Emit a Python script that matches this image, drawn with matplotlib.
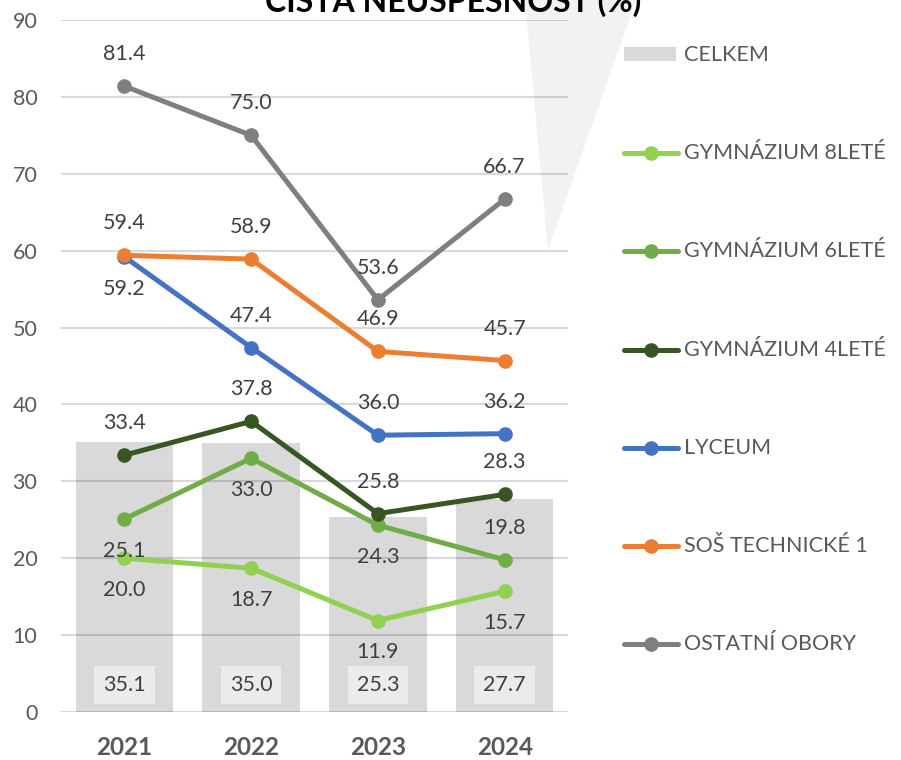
import matplotlib
matplotlib.use("Agg")
import matplotlib.pyplot as plt
from matplotlib.patches import Polygon, Rectangle
from matplotlib.lines import Line2D
import numpy as np

plt.rcParams['font.family'] = ['Lato', 'DejaVu Sans']

years = ['2021', '2022', '2023', '2024']
celkem = [35.1, 35.0, 25.3, 27.7]
series_names = ['GYMNÁZIUM 8LETÉ', 'GYMNÁZIUM 6LETÉ', 'GYMNÁZIUM 4LETÉ',
                'LYCEUM', 'SOŠ TECHNICKÉ 1', 'OSTATNÍ OBORY']
gym8 = [20.0, 18.7, 11.9, 15.7]
gym6 = [25.1, 33.0, 24.3, 19.8]
gym4 = [33.4, 37.8, 25.8, 28.3]
lyceum = [59.2, 47.4, 36.0, 36.2]
sos = [59.4, 58.9, 46.9, 45.7]
ostatni = [81.4, 75.0, 53.6, 66.7]
series_values = [gym8, gym6, gym4, lyceum, sos, ostatni]
colors = ['#92d050', '#70ad47', '#375623', '#4472c4', '#ed7d31', '#7f7f7f']
# label placement: +1 above, -1 below
label_side = [[-1, -1, -1, -1],
              [-1, -1, -1, 1],
              [1, 1, 1, 1],
              [-1, 1, 1, 1],
              [1, 1, 1, 1],
              [1, 1, 1, 1]]

W, H = 901, 760
fig = plt.figure(figsize=(W / 100, H / 100), dpi=100)

def fx(px):
    return px / W

def fy(py):
    return 1 - py / H

# callout-like light triangle behind everything
tri = Polygon([(fx(525), fy(0)), (fx(636), fy(0)), (fx(548), fy(250))],
              closed=True, transform=fig.transFigure, facecolor='#f2f2f2',
              edgecolor='none', zorder=-5)
fig.patches.append(tri)

ax = fig.add_axes([fx(61), fy(712), fx(568) - fx(61), fy(20) - fy(712)])
ax.patch.set_alpha(0)
x = np.arange(len(years))

bars = ax.bar(x, celkem, width=0.77, color='#d9d9d9', zorder=1)
for xi, v in zip(x, celkem):
    ax.text(xi, 3.5, f'{v:.1f}', ha='center', va='center', fontsize=15.5,
            color='#404040', zorder=4,
            bbox=dict(boxstyle='square,pad=0.42', facecolor='#ebebeb', edgecolor='none'))

for vals, col, sides in zip(series_values, colors, label_side):
    ax.plot(x, vals, color=col, lw=3.6, marker='o', markersize=9.5,
            solid_capstyle='round', zorder=3)
    for xi, v, s in zip(x, vals, sides):
        ax.annotate(f'{v:.1f}', (xi, v), xytext=(0, 23 * s), textcoords='offset points',
                    ha='center', va='center', fontsize=15.5, color='#404040', zorder=5)

ax.set_xlim(-0.5, 3.5)
ax.set_ylim(0, 90)
ax.set_yticks(np.arange(0, 91, 10))
ax.yaxis.grid(True, color='k', alpha=0.15, lw=1.5, zorder=2)
ax.set_axisbelow(False)
for sp in ax.spines.values():
    sp.set_visible(False)
ax.set_xticks(x)
ax.set_xticklabels(years, fontsize=17.5, fontweight='bold', color='#595959')
ax.tick_params(axis='x', length=0, pad=17)
ax.tick_params(axis='y', length=0, pad=17, labelsize=15.5, labelcolor='#595959')
for lbl in ax.get_yticklabels():
    lbl.set_horizontalalignment('right')

# title (partly cut off at top as in reference)
fig.text(fx(453), fy(12), 'ČISTÁ NEÚSPĚŠNOST (%)', ha='center', va='baseline',
         fontsize=23, fontweight='bold', color='#000000')

# legend (manual)
leg_y = [55, 153, 251, 350, 448, 546, 644]
fig.patches.append(Rectangle((fx(624), fy(61)), fx(676) - fx(624), fy(47) - fy(61),
                             transform=fig.transFigure, facecolor='#d9d9d9', edgecolor='none'))
fig.text(fx(684), fy(leg_y[0]), 'CELKEM', ha='left', va='center', fontsize=15.5,
         color='#595959')
for name, col, yy in zip(series_names, colors, leg_y[1:]):
    fig.lines.append(Line2D([fx(624), fx(678)], [fy(yy), fy(yy)], transform=fig.transFigure,
                            color=col, lw=3.6, solid_capstyle='round'))
    fig.lines.append(Line2D([fx(651)], [fy(yy)], transform=fig.transFigure,
                            color=col, marker='o', markersize=9.5))
    fig.text(fx(684), fy(yy), name, ha='left', va='center', fontsize=15.5,
             color='#595959')

fig.savefig('out.png', dpi=100)
